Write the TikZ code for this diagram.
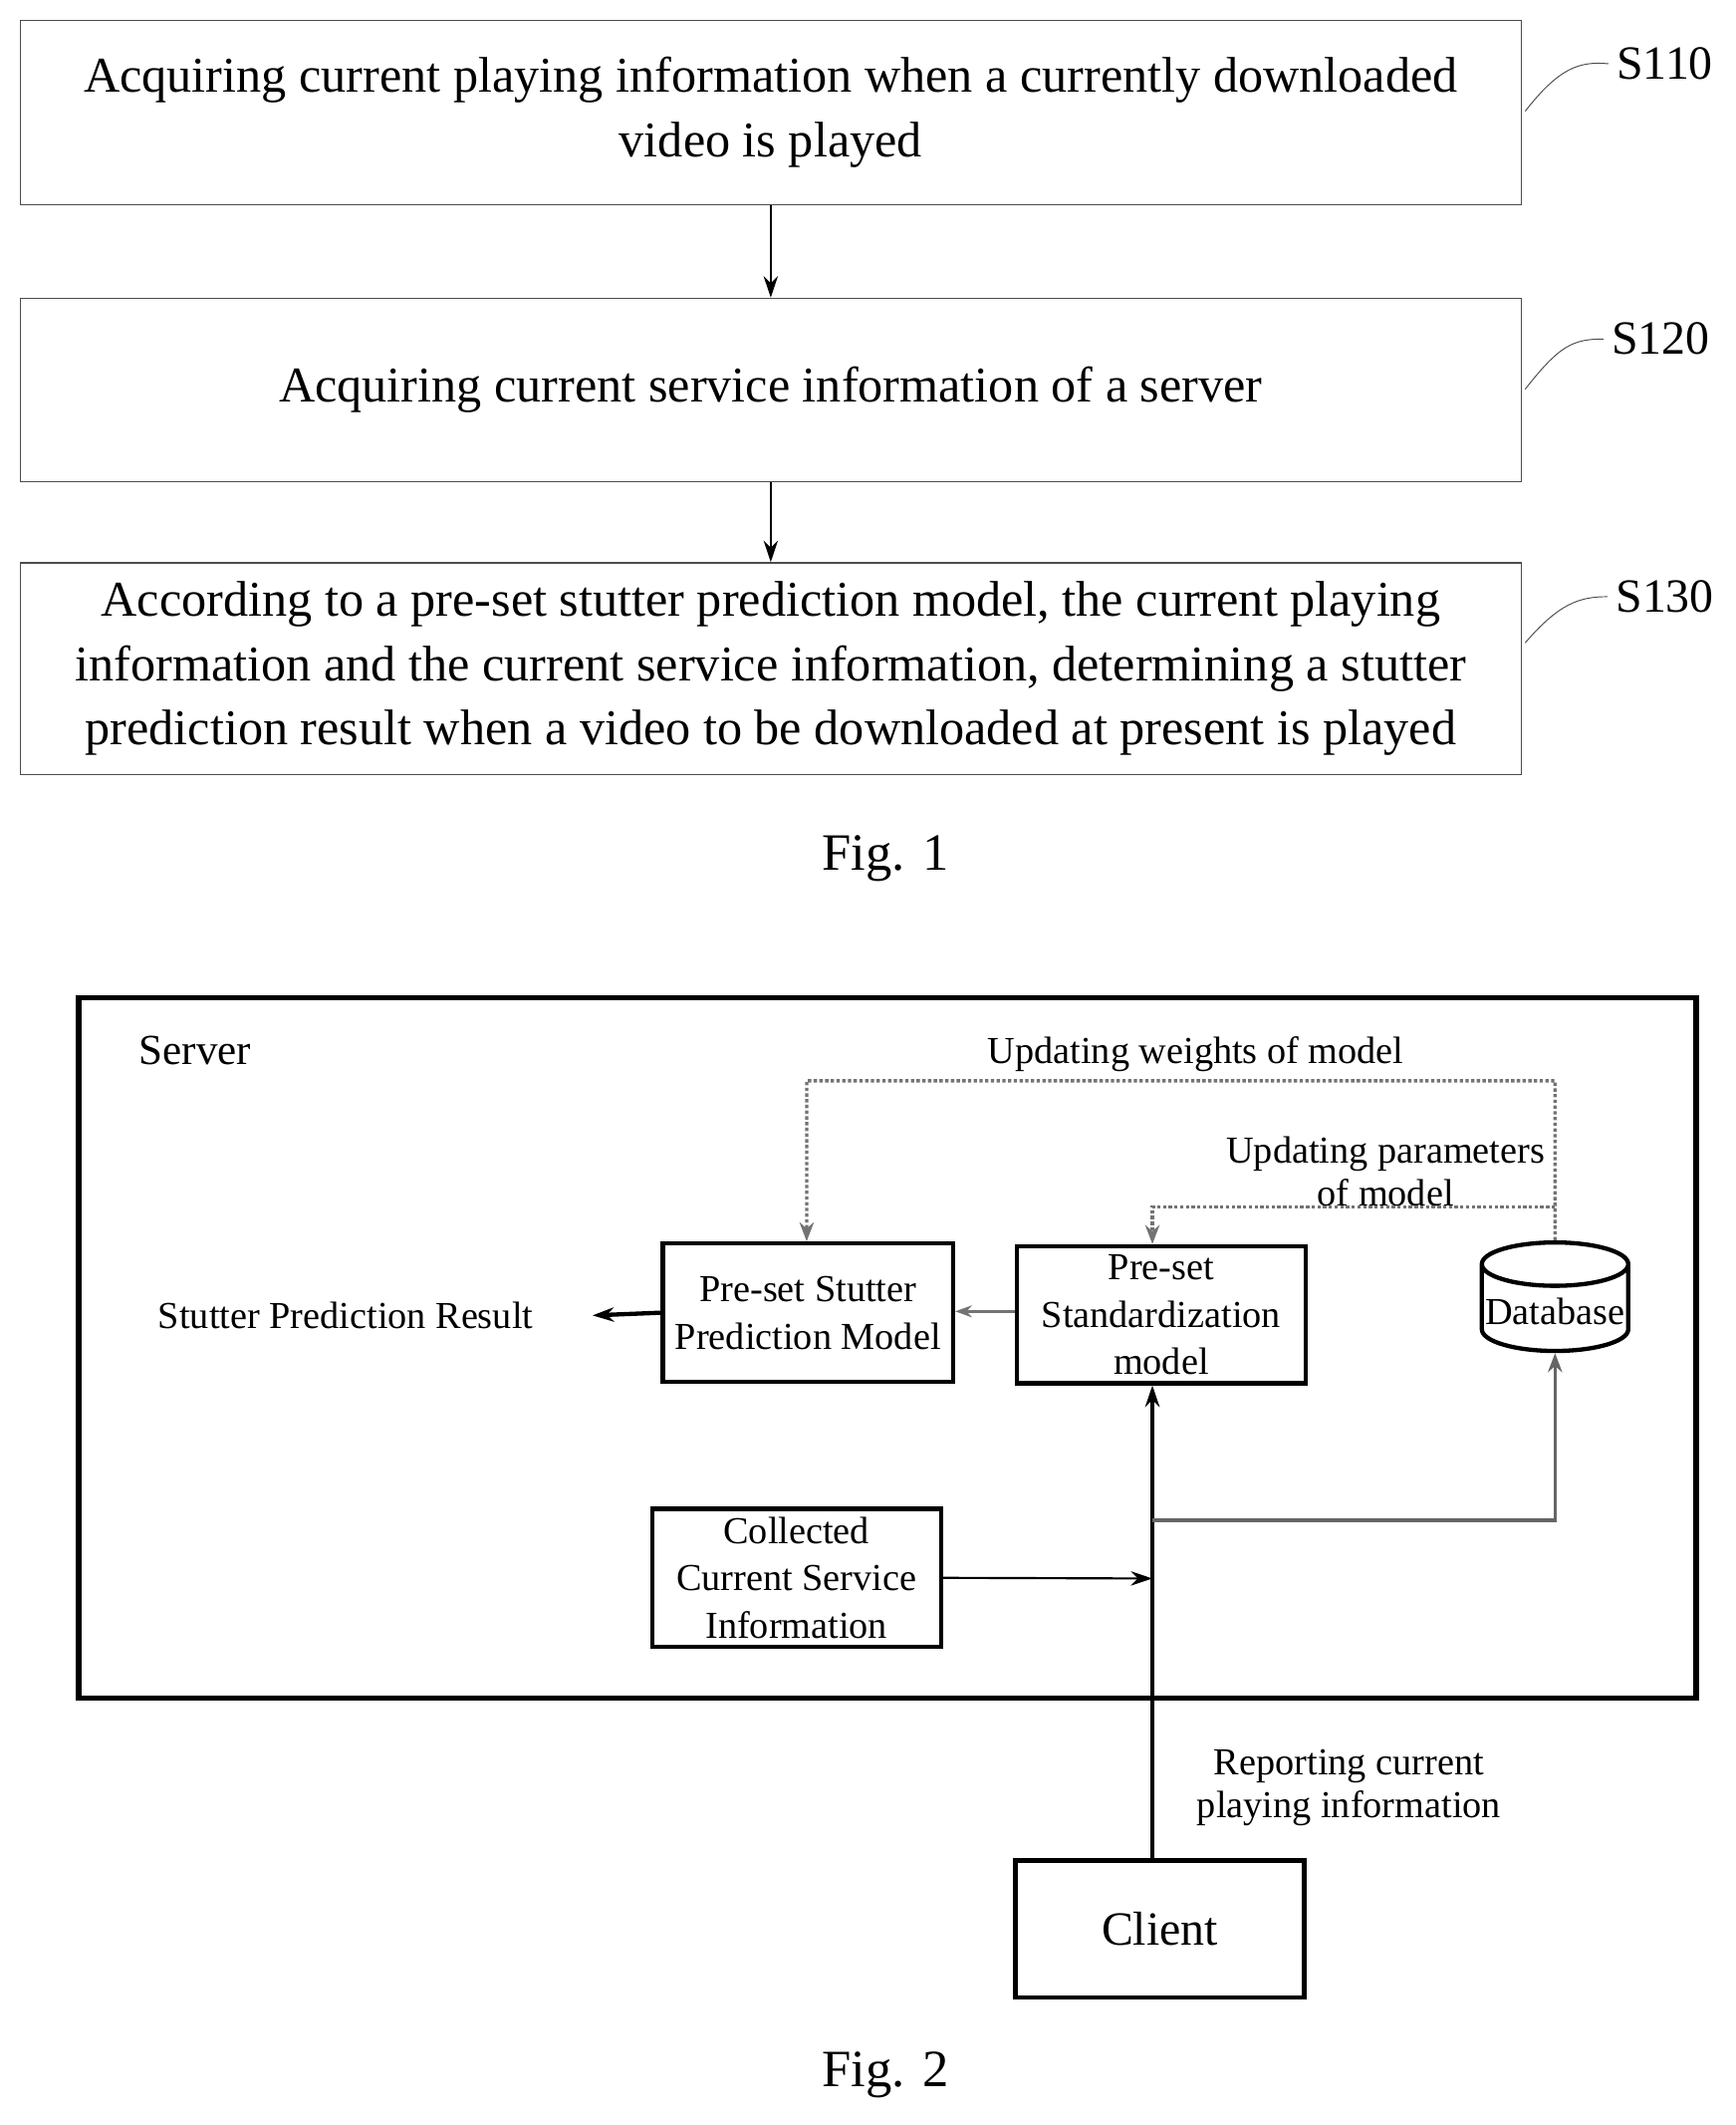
\documentclass[tikz,border=0pt]{standalone}
\usepackage{fontspec}
\setmainfont{Liberation Serif}
\usetikzlibrary{shapes.geometric,arrows.meta}
\begin{document}
\begin{tikzpicture}[x=0.02cm,y=-0.02cm,
 stepbox/.style={draw=black!70,line width=0.6pt,font=\fontsize{21}{27}\selectfont,align=center},
 box/.style={draw,line width=1.8pt,font=\fontsize{16}{20}\selectfont,align=center},
 lab/.style={font=\fontsize{16}{18}\selectfont,align=center},
 arr/.style={-{Stealth[length=9pt,width=6pt]},line width=0.9pt},
 dot/.style={densely dotted,draw=black!55,line width=1.4pt,-{Stealth[length=8pt,width=6pt]}}]
\useasboundingbox (0,0) rectangle (1280,1567);
% Fig 1
\node[stepbox,minimum width=1107*0.02cm,minimum height=136*0.02cm] (s1) at (568.5,83) {Acquiring current playing information when a currently downloaded\\video is played};
\node[stepbox,minimum width=1107*0.02cm,minimum height=135*0.02cm] (s2) at (568.5,287.5) {Acquiring current service information of a server};
\node[stepbox,minimum width=1107*0.02cm,minimum height=156*0.02cm] (s3) at (568.5,493) {According to a pre-set stutter prediction model, the current playing\\information and the current service information, determining a stutter\\prediction result when a video to be downloaded at present is played};
\draw[arr] (s1) -- (s2);
\draw[arr] (s2) -- (s3);
\node[font=\fontsize{20}{22}\selectfont] (l1) at (1228,47) {S110};
\node[font=\fontsize{20}{22}\selectfont] (l2) at (1225,250) {S120};
\node[font=\fontsize{20}{22}\selectfont] (l3) at (1228,440) {S130};
\draw[black!70] (1125,82) .. controls (1150,50) and (1165,45) .. (l1.west);
\draw[black!70] (1125,287) .. controls (1150,255) and (1160,250) .. (l2.west);
\draw[black!70] (1125,474) .. controls (1150,445) and (1165,440) .. (l3.west);
\node[font=\fontsize{22}{24}\selectfont] (f1) at (653,633) {Fig. 1};
% Fig 2
\draw[line width=2.2pt] (58,736) rectangle (1251,1252);
\node[font=\fontsize{18}{20}\selectfont] (srv) at (144,775) {Server};
\node[box,minimum width=214*0.02cm,minimum height=102*0.02cm] (sp) at (596,968) {Pre-set Stutter\\Prediction Model};
\node[box,minimum width=213*0.02cm,minimum height=101*0.02cm] (sm) at (856.5,969.5) {Pre-set\\Standardization\\model};
\node[box,minimum width=213*0.02cm,minimum height=101*0.02cm] (cs) at (587.5,1163.5) {Collected\\Current Service\\Information};
\node[box,minimum width=213*0.02cm,minimum height=101*0.02cm,font=\fontsize{20}{22}\selectfont] (cl) at (855.5,1422.5) {Client};
\node[cylinder,shape border rotate=90,draw,line width=1.8pt,minimum width=108*0.02cm,minimum height=80*0.02cm,aspect=0.3,lab,inner sep=1pt] (db) at (1147,967) {Database};
\node[lab] (res) at (255,970) {Stutter Prediction Result};
\node[lab] (uw) at (882,777) {Updating weights of model};
\node[lab] (up) at (1022,864) {Updating parameters\\of model};
\node[lab] (rep) at (995,1318) {Reporting current\\playing information};
\node[font=\fontsize{22}{24}\selectfont] (f2) at (653,1530) {Fig. 2};
\draw[arr,line width=1.8pt] (sp.west) -- (437,970);
\draw[-{Stealth[length=7pt,width=5pt]},draw=black!55,line width=1.4pt] (sm.west |- 0,967) -- (sp.east |- 0,967);
\draw[dot] (db.north) -- (1147,797) -- (595,797) -- (sp.north -| 595,0);
\draw[dot] (1147,890) -- (850,890) -- (sm.north -| 850,0);
\coordinate (j1) at (850,1164);
\coordinate (j2) at (850,1121);
\draw[arr,line width=1.8pt] (cl.north -| 850,0) -- (sm.south -| 850,0);
\draw[arr] (cs.east) -- (j1);
\draw[-{Stealth[length=8pt,width=6pt]},draw=black!60,line width=1.4pt] (j2) -- (1147,1121) -- (db.south);
\end{tikzpicture}
\end{document}
